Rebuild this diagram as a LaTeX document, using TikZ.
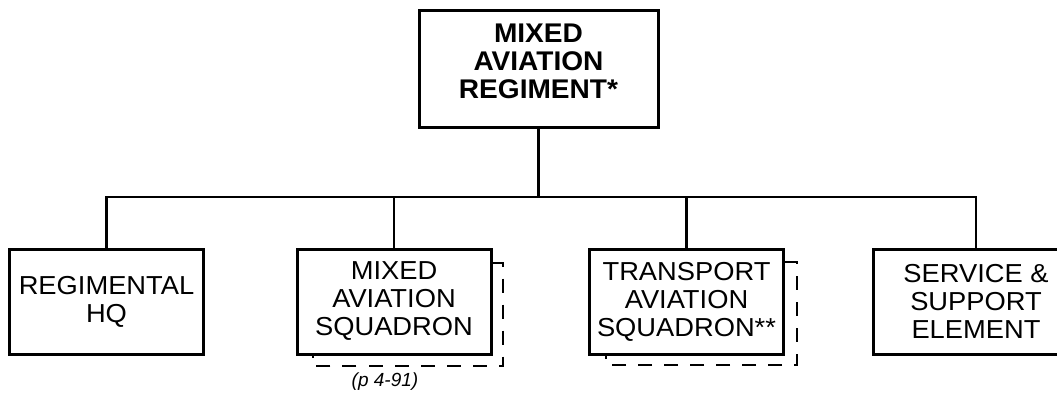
\documentclass[tikz,border=0pt]{standalone}
\usepackage{fontspec}
\setmainfont{Liberation Sans}
\newfontfamily\boxfont[FakeStretch=1.05]{Liberation Sans}
\newfontfamily\topfont[FakeStretch=1.04]{Liberation Sans Bold}
\tikzset{
  unitbox/.style={draw, line width=3bp, align=center, minimum width=194bp, minimum height=105bp,
    inner sep=0pt, font=\boxfont\fontsize{26bp}{28bp}\selectfont},
  headbox/.style={draw, line width=3bp, align=center, minimum width=239bp, minimum height=117bp,
    inner sep=0pt, text depth=14bp, font=\topfont\fontsize{27bp}{28bp}\selectfont},
  link/.style={line width=2.6bp},
  shadow/.style={line width=1.5bp, dash pattern=on 14bp off 12bp},
  note/.style={font=\itshape\fontsize{19bp}{22bp}\selectfont, inner sep=0pt}
}
\begin{document}
\begin{tikzpicture}[x=1bp,y=-1bp]
\clip (0,0) rectangle (1057,398);
\fill[white] (0,0) rectangle (1057,398);
\node[headbox] (top) at (538.5,68.5) {MIXED\\AVIATION\\REGIMENT*};
\node[unitbox] (hq) at (106.5,301.5) {REGIMENTAL\\HQ};
\node[unitbox] (mas) at (394,301.5) {MIXED\\AVIATION\\SQUADRON};
\node[unitbox] (tas) at (686.5,301.5) {TRANSPORT\\AVIATION\\SQUADRON**};
\node[unitbox, minimum width=206bp] (sse) at (976,301.5) {SERVICE \&\\SUPPORT\\ELEMENT};
\coordinate (bus) at (538.5,197);
\draw[link] (top.south) -- (bus);
\draw[link] (hq.north) -- (hq.north |- bus) -- (sse.north |- bus) -- (sse.north);
\draw[link] (mas.north) -- (mas.north |- bus);
\draw[link] (tas.north) -- (tas.north |- bus);
% dashed shadows
\coordinate (m1) at (503,263);
\coordinate (m2) at (313,366);
\draw[shadow] (mas.east |- m1) -- (m1) -- (m1 |- m2) -- (m2) -- (m2 |- mas.south);
\coordinate (t1) at (797,262);
\coordinate (t2) at (606,365);
\draw[shadow] (tas.east |- t1) -- (t1) -- (t1 |- t2) -- (t2) -- (t2 |- tas.south);
\node[note] (ref) at (385,382) {(p 4-91)};
\end{tikzpicture}
\end{document}
